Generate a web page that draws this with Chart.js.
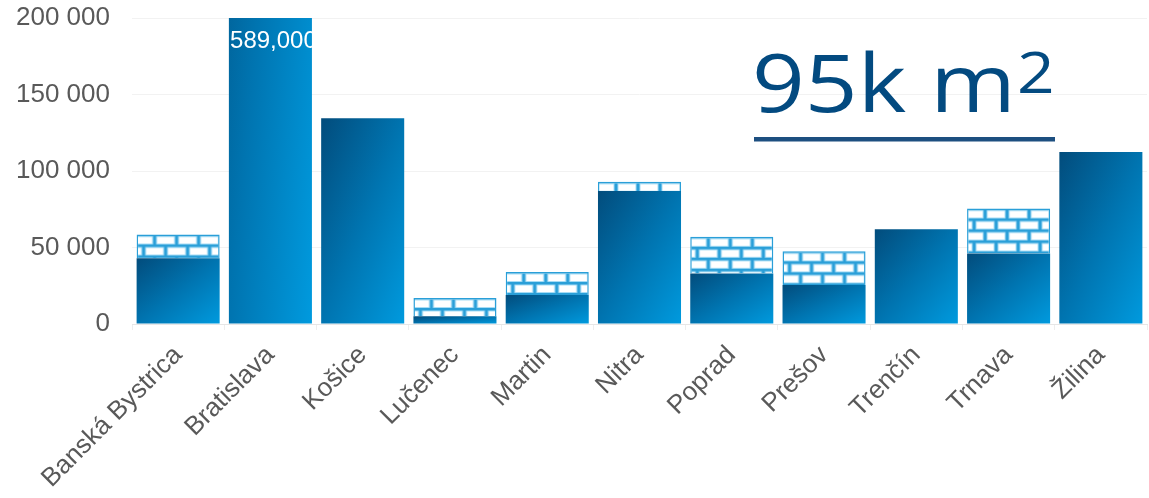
<!DOCTYPE html>
<html>
<head>
<meta charset="utf-8">
<script src="https://cdn.jsdelivr.net/npm/chart.js@4.4.1/dist/chart.umd.min.js"></script>
<style>
html,body{margin:0;padding:0;background:#fff;}
#wrap{position:relative;width:1149px;height:498px;}
</style>
</head>
<body>
<div id="wrap"><canvas id="c" width="1149" height="498"></canvas></div>
<script>
// ---- data ----
const categories = ['Banská Bystrica','Bratislava','Košice','Lučenec','Martin','Nitra','Poprad','Prešov','Trenčín','Trnava','Žilina'];
const builtArea = [43000, 589000, 134500, 5000, 19000, 87000, 33000, 25500, 62000, 46000, 112500];
const plannedArea = [15500, 0, 0, 12000, 15000, 6000, 24000, 22000, 0, 29500, 0];
const yTicks = [0, 50000, 100000, 150000, 200000];
const headline = '95k m';
const headlineSup = '2';

const FONT = "'Liberation Sans', Arial, sans-serif";
const yMax = yTicks[yTicks.length - 1];

function fmtSpace(v){ return String(v).replace(/\B(?=(\d{3})+(?!\d))/g, '\u00a0'); }

function barGeom(chart, i, lo, hi){
  const xs = chart.scales.x, ys = chart.scales.y;
  const catW = xs.width / categories.length;
  const w = catW * 0.9;
  const cx = xs.getPixelForValue(i);
  return {left: cx - w/2, w: w, top: ys.getPixelForValue(hi), bottom: ys.getPixelForValue(lo)};
}

function gradientFill(c){
  const chart = c.chart;
  if (!chart.chartArea || c.dataIndex === undefined) return '#0080c0';
  const i = c.dataIndex;
  const g = barGeom(chart, i, 0, builtArea[i]);
  const w = g.w, h = Math.max(1, g.bottom - g.top);
  const k = 2*w*h/(h*h + w*w);
  const grad = chart.ctx.createLinearGradient(g.left, g.top, g.left + h*k, g.top + w*k);
  grad.addColorStop(0, '#024c7c');
  grad.addColorStop(0.5, '#0074b0');
  grad.addColorStop(1, '#009ade');
  return grad;
}

// brick tile
const tile = document.createElement('canvas');
tile.width = 22; tile.height = 22;
(function(){
  const t = tile.getContext('2d');
  t.fillStyle = '#2a9fd8';
  t.fillRect(0,0,22,22);
  function brick(x,y){
    t.fillStyle = '#a6dcf5'; t.fillRect(x, y, 19, 8.5);
    t.fillStyle = '#ffffff'; t.fillRect(x+1, y+1, 17, 6.5);
  }
  for (const dx of [-22, 0, 22]) {
    brick(1.5 + dx, 2.5);
    brick(12.5 + dx, 13.5);
  }
})();

function brickFill(c){
  const chart = c.chart;
  if (!chart.chartArea || c.dataIndex === undefined) return '#ffffff';
  const i = c.dataIndex;
  const g = barGeom(chart, i, builtArea[i], builtArea[i] + plannedArea[i]);
  const p = chart.ctx.createPattern(tile, 'repeat');
  p.setTransform(new DOMMatrix().translate(g.left - 4, g.top - 1));
  return p;
}

const overflowLabel = {
  id: 'overflowLabel',
  afterDatasetsDraw(chart){
    const ctx = chart.ctx, ca = chart.chartArea;
    const meta = chart.getDatasetMeta(0);
    builtArea.forEach((v, i) => {
      if (v + plannedArea[i] <= yMax) return;
      const el = meta.data[i];
      const l = el.x - el.width/2;
      ctx.save();
      ctx.beginPath();
      ctx.rect(l, ca.top, el.width, el.base - ca.top);
      ctx.clip();
      ctx.fillStyle = '#ffffff';
      ctx.font = '24px ' + FONT;
      ctx.textAlign = 'center';
      ctx.textBaseline = 'middle';
      ctx.fillText(v.toLocaleString('en-US'), el.x + 3, ca.top + 23);
      ctx.restore();
    });
  }
};

const headlinePlugin = {
  id: 'headline',
  afterDraw(chart){
    const ctx = chart.ctx;
    ctx.save();
    ctx.fillStyle = '#034a80';
    ctx.textBaseline = 'alphabetic';
    ctx.translate(752, 112);
    ctx.scale(1.155, 1);
    ctx.font = "500 80px 'Open Sans', sans-serif";
    ctx.fillText(headline, 0, 0);
    const w = ctx.measureText(headline).width;
    ctx.font = "500 57px 'Open Sans', sans-serif";
    ctx.fillText(headlineSup, w + 1, -19);
    ctx.restore();
    ctx.fillStyle = '#1d4f80';
    ctx.fillRect(754, 137, 301, 4.5);
  }
};

new Chart(document.getElementById('c'), {
  type: 'bar',
  data: {
    labels: categories,
    datasets: [
      {label: 'built', data: builtArea, backgroundColor: gradientFill, borderWidth: 0, stack: 's'},
      {label: 'planned', data: plannedArea, backgroundColor: brickFill, borderColor: '#2a9fd8', borderWidth: 1.5, borderSkipped: 'bottom', stack: 's'}
    ]
  },
  plugins: [overflowLabel, headlinePlugin],
  options: {
    responsive: false,
    animation: false,
    devicePixelRatio: 1,
    layout: {padding: {top: 0, right: 2, left: 0, bottom: 0}},
    datasets: {bar: {barPercentage: 0.9, categoryPercentage: 1.0}},
    plugins: {legend: {display: false}, tooltip: {enabled: false}},
    scales: {
      x: {
        stacked: true,
        grid: {display: true, drawOnChartArea: false, tickLength: 6, color: '#eeeeee'},
        border: {display: true, color: '#e6e6e6'},
        ticks: {color: '#595959', font: {family: FONT, size: 26}, minRotation: 45, maxRotation: 45, padding: 10, autoSkip: false},
        afterFit(s){ s.height = 174; s.paddingTop = 0; }
      },
      y: {
        stacked: true,
        min: 0, max: yMax,
        afterBuildTicks(s){ s.ticks = yTicks.map(v => ({value: v})); },
        grid: {color: '#f2f2f2', drawTicks: false},
        border: {display: false},
        ticks: {color: '#595959', font: {family: FONT, size: 26}, padding: 22, callback: v => fmtSpace(v)},
        afterFit(s){ s.width = 132; s.paddingTop = 18; s.paddingBottom = 0; }
      }
    }
  }
});
</script>
</body>
</html>
